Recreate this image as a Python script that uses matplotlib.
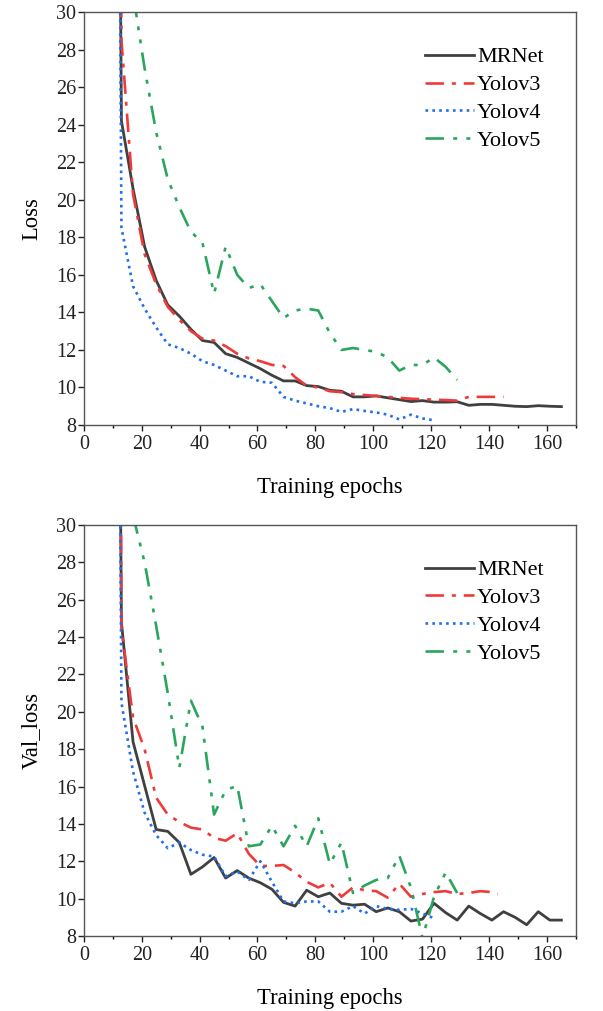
import numpy as np
import matplotlib
matplotlib.use("Agg")
import matplotlib.pyplot as plt
from matplotlib.ticker import MultipleLocator

plt.rcParams['font.family'] = ['Liberation Serif', 'DejaVu Serif']

# epochs sampled every 4 from 13 (12 is the off-scale start)
ep = [12] + list(range(13, 166, 4))

# ---- training loss ----
loss_mrnet = [45, 24.2, 20.6, 17.5, 15.7, 14.4, 13.8, 13.1, 12.5, 12.4, 11.8, 11.6, 11.3,
              11.0, 10.65, 10.35, 10.35, 10.1, 10.05, 9.85, 9.8, 9.5, 9.5, 9.55, 9.45,
              9.35, 9.25, 9.3, 9.22, 9.22, 9.24, 9.05, 9.1, 9.1, 9.05, 9.0, 8.98, 9.03,
              9.0, 8.98]
loss_v3 = [60, 28.5, 20.3, 17.1, 15.5, 14.3, 13.6, 13.0, 12.6, 12.5, 12.2, 11.8, 11.55,
           11.4, 11.2, 11.15, 10.55, 10.1, 10.0, 9.8, 9.75, 9.65, 9.6, 9.55, 9.5, 9.45,
           9.4, 9.38, 9.35, 9.33, 9.3, 9.5, 9.5, 9.5, 9.5]
loss_v4 = [45, 18.5, 15.4, 14.2, 13.2, 12.3, 12.1, 11.8, 11.4, 11.2, 10.9, 10.6, 10.6,
           10.3, 10.25, 9.5, 9.3, 9.15, 9.0, 8.9, 8.7, 8.85, 8.75, 8.67, 8.55, 8.3,
           8.55, 8.35, 8.25]
ep_v5 = list(range(17, 130, 4))
loss_v5 = [31.0, 27.0, 23.6, 21.1, 19.6, 18.3, 17.7, 15.0, 17.5, 16.0, 15.3, 15.5, 14.6,
           13.7, 14.1, 14.2, 14.1, 12.9, 12.0, 12.1, 12.0, 11.9, 11.6, 10.9, 11.2, 11.2,
           11.6, 11.1, 10.4]

# ---- validation loss ----
val_mrnet = [45, 24.8, 18.4, 16.05, 13.7, 13.6, 13.0, 11.3, 11.7, 12.2, 11.1, 11.5, 11.1,
             10.85, 10.5, 9.8, 9.6, 10.45, 10.1, 10.3, 9.75, 9.65, 9.7, 9.3, 9.5, 9.3,
             8.8, 8.9, 9.75, 9.25, 8.85, 9.6, 9.2, 8.85, 9.3, 9.0, 8.6, 9.3, 8.85, 8.85]
ep_v3_val = [12] + list(range(13, 142, 4)) + [143]
val_v3 = [60, 24.5, 19.7, 18.0, 15.4, 14.5, 14.1, 13.8, 13.7, 13.25, 13.1, 13.5, 12.4,
          11.75, 11.75, 11.8, 11.4, 10.9, 10.6, 10.85, 10.1, 10.6, 10.45, 10.4, 10.05,
          10.8, 10.1, 10.25, 10.35, 10.4, 10.25, 10.3, 10.4, 10.35, 10.25]
val_v4 = [45, 20.5, 16.8, 14.6, 13.4, 12.7, 13.0, 12.6, 12.35, 12.25, 11.2, 11.45, 11.0,
          12.0, 10.9, 9.85, 9.75, 9.85, 9.85, 9.3, 9.3, 9.6, 9.2, 9.6, 9.45, 9.4, 9.45,
          9.2, 8.95]
val_v5 = [30.5, 28.0, 24.6, 21.0, 17.0, 20.6, 19.2, 14.5, 15.8, 16.05, 12.8, 12.9, 13.9,
          12.8, 13.9, 12.8, 14.3, 11.85, 13.0, 10.3, 10.7, 11.0, 11.1, 12.3, 10.6, 7.9,
          10.1, 11.4, 10.3]

labels = ['MRNet', 'Yolov3', 'Yolov4', 'Yolov5']
colors = ['#404040', '#f03a3a', '#1f6fe6', '#2aa65c']
dashes = [None, (7, 3, 1.5, 3), (1, 1.6), (7, 3.5, 1.5, 3.5, 1.5, 3.5)]

fig = plt.figure(figsize=(6.03, 10.11), dpi=100)
ax1 = fig.add_axes([0.139, 0.5796, 0.816, 0.4085])
ax2 = fig.add_axes([0.139, 0.0742, 0.816, 0.4065])

panels = [
    (ax1, 'Loss', [(ep, loss_mrnet), (ep[:len(loss_v3)], loss_v3),
                   (ep[:len(loss_v4)], loss_v4), (ep_v5, loss_v5)]),
    (ax2, 'Val_loss', [(ep, val_mrnet), (ep_v3_val, val_v3),
                       (ep[:len(val_v4)], val_v4), (ep_v5, val_v5)]),
]

for ax, ylab, series in panels:
    for (x, y), lab, c, d in zip(series, labels, colors, dashes):
        line, = ax.plot(x, y, color=c, lw=2.0 if d is None else 1.9, label=lab)
        if d is not None:
            line.set_dashes(d)
    ax.set_xlim(0, 170)
    ax.set_ylim(8, 30)
    ax.xaxis.set_major_locator(MultipleLocator(20))
    ax.xaxis.set_minor_locator(MultipleLocator(10))
    ax.yaxis.set_major_locator(MultipleLocator(2))
    ax.tick_params(which='major', direction='out', length=4, width=1, labelsize=14.5,
                   colors='#222222', pad=1.5)
    ax.tick_params(axis='x', which='major', pad=3)
    ax.tick_params(which='minor', direction='out', length=2.5, width=1)
    for s in ax.spines.values():
        s.set_color('#555555')
        s.set_linewidth(1.0)
    ax.set_xlabel('Training epochs', fontsize=16.3, labelpad=17)
    ax.set_ylabel(ylab, fontsize=16.3, labelpad=10)
    ax.legend(loc='upper left', bbox_to_anchor=(0.675, 0.937), frameon=False,
              fontsize=16, handlelength=2.2, handletextpad=0.15, labelspacing=0.33,
              borderaxespad=0)

fig.savefig('out.png', dpi=100)
